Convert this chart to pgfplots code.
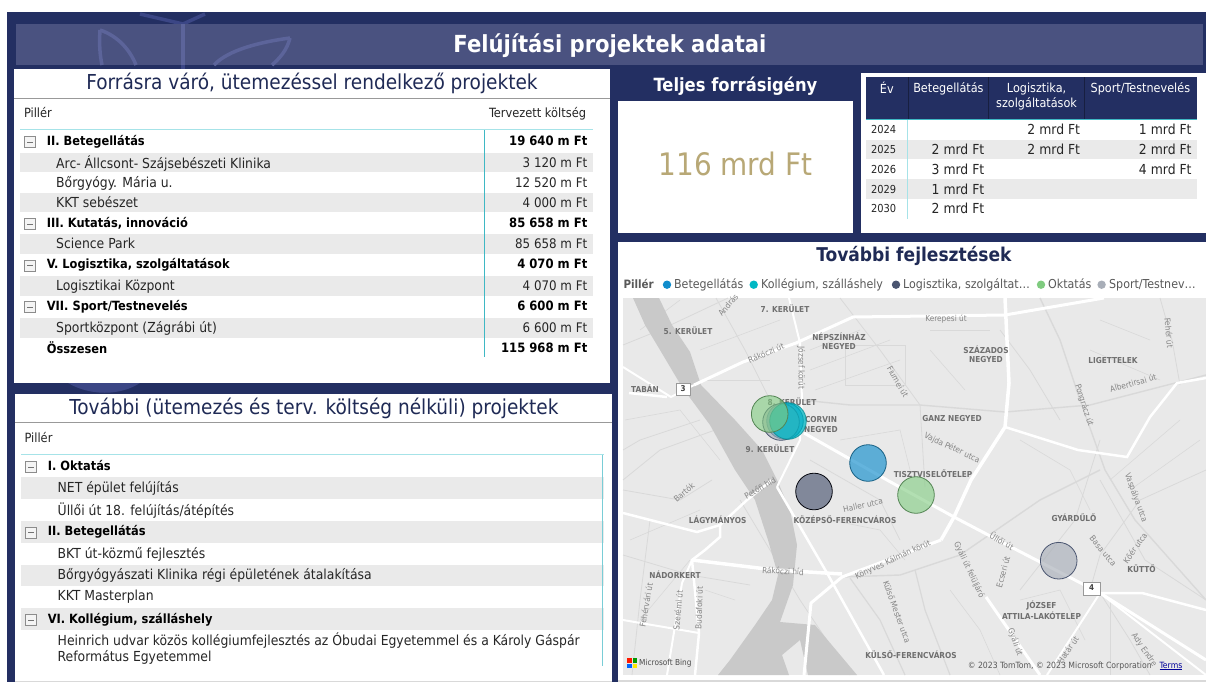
\documentclass[border=0pt]{standalone}
\usepackage{fontspec}
\setmainfont{DejaVu Sans Condensed}[BoldFont={DejaVu Sans Condensed Bold}]
\usepackage{pgfplots}
\pgfplotsset{compat=1.18}
\definecolor{navy}{HTML}{232F62}
\definecolor{band}{HTML}{4A5280}
\definecolor{leaf}{HTML}{3B4685}
\definecolor{leafb}{HTML}{5C649A}
\definecolor{ink}{HTML}{1F2A55}
\definecolor{rowg}{HTML}{EAEAEA}
\definecolor{teal1}{HTML}{3FB8C4}
\definecolor{teal2}{HTML}{A6E3E8}
\definecolor{gold}{HTML}{B8A876}
\definecolor{mapbg}{HTML}{E9E9E9}
\definecolor{river}{HTML}{C9C9C9}
\definecolor{lab}{HTML}{6F6F6F}
\definecolor{street}{HTML}{D9D9D9}
\definecolor{cB}{HTML}{118DCC}
\definecolor{cK}{HTML}{00B8C4}
\definecolor{cL}{HTML}{4A5570}
\definecolor{cO}{HTML}{7FCB7F}
\definecolor{cS}{HTML}{A8AEB8}
\newcommand\fs[1]{\fontsize{#1}{#1}\selectfont}
\newcommand\R[5]{\fill[#1] (axis cs:#2,#3) rectangle (axis cs:#4,#5);}
\newcommand\Tx[5]{\node[anchor=#1,inner sep=0pt,outer sep=0pt,yshift={-0.12pt*#4}] at (axis cs:#2,#3) {\fs{#4}#5\strut};}
\newcommand\Lw[3]{\node[anchor=west,inner sep=0pt,yshift=-1.3pt] at (axis cs:#1,#2) {\fs{13.8}\color{black!85}#3\strut};}
\newcommand\Lb[3]{\node[anchor=west,inner sep=0pt,yshift=-1.3pt] at (axis cs:#1,#2) {\fs{12.7}\bfseries\color{black}#3\strut};}
\newcommand\Vr[2]{\node[anchor=east,inner sep=0pt,yshift=-1.3pt] at (axis cs:587.5,#1) {\fs{13.2}\color{black!85}#2\strut};}
\newcommand\Vb[2]{\node[anchor=east,inner sep=0pt,yshift=-1.3pt] at (axis cs:587.5,#1) {\fs{12.9}\bfseries\color{black}#2\strut};}
\newcommand\Ic[2]{\draw[black!45,line width=.8pt,fill=rowg!50] (axis cs:#1-5.5,#2-5.5) rectangle (axis cs:#1+5.5,#2+5.5);\draw[black!55,line width=.8pt] (axis cs:#1-3,#2) -- (axis cs:#1+3,#2);}
\newcommand\Ml[3]{\node[inner sep=0pt,text=lab] at (axis cs:#1,#2) {\fs{8.2}\bfseries #3};}
\newcommand\Rl[4]{\node[inner sep=0pt,text=lab!85,rotate=#3] at (axis cs:#1,#2) {\fs{8.2}#4};}
\newcommand\Yv[3]{\node[anchor=east,inner sep=0pt,yshift=-1.3pt] at (axis cs:#1,#2) {\fs{13.8}\color{black!85}#3\strut};}
\newcommand\Yr[2]{\node[anchor=west,inner sep=0pt,yshift=-1.3pt] at (axis cs:870.8,#1) {\fs{11}\color{black!85}#2\strut};}
\newcommand\Hd[3]{\node[inner sep=0pt,yshift=-1.2pt] at (axis cs:#1,#2) {\fs{12.5}\color{white}#3\strut};}
\newcommand\Dot[3]{\fill[#1] (axis cs:#2,#3) circle[radius=4.2];}
\newcommand\Lg[2]{\node[anchor=west,inner sep=0pt,yshift=-1.2pt] at (axis cs:#1,284.7) {\fs{12.3}\color{black!65}#2\strut};}
\begin{document}
\begin{tikzpicture}
\begin{axis}[
  scale only axis, width=1206pt, height=682pt,
  xmin=0, xmax=1206, ymin=0, ymax=682, y dir=reverse,
  axis lines=none, clip=true,
  disabledatascaling,
]
\R{white}{0}{0}{1206}{682}
\R{navy}{7}{12}{1206}{682}
\draw[leaf,line width=3.5pt] (axis cs:183,24) -- (axis cs:183,70);
\draw[leaf,line width=3.5pt] (axis cs:140,14) -- (axis cs:183,24) -- (axis cs:205,14);
\R{band}{16}{24}{1203}{65}
\draw[leafb,line width=3.5pt] (axis cs:183,24) -- (axis cs:183,65);
\draw[leafb,line width=3.5pt] (axis cs:100,30) .. controls (axis cs:99,45) and (axis cs:100,55) .. (axis cs:102,65);
\draw[leafb,line width=3.5pt] (axis cs:100,30) .. controls (axis cs:118,36) and (axis cs:130,50) .. (axis cs:136,65);
\draw[leafb,line width=3.5pt] (axis cs:290,38) .. controls (axis cs:260,42) and (axis cs:228,50) .. (axis cs:214,65);
\draw[leafb,line width=3.5pt] (axis cs:290,38) .. controls (axis cs:287,50) and (axis cs:280,58) .. (axis cs:272,65);
\fill[leaf] (axis cs:68,383) .. controls (axis cs:90,396) and (axis cs:120,396) .. (axis cs:140,383) -- cycle;
\Tx{center}{610}{44}{23.5}{\bfseries\color{white}Felújítási projektek adatai}
% panel 1
\R{white}{14}{69}{610}{383}
\Tx{center}{312}{82}{20.6}{\color{ink}Forrásra váró, ütemezéssel rendelkező projektek}
\R{black!40}{14}{97.6}{610}{98.8}
\Tx{west}{24}{113}{12.7}{\color{black!85}Pillér}
\Tx{east}{586}{113}{12.7}{\color{black!85}Tervezett költség}
\R{rowg}{19.5}{152.7}{592.6}{172}
\R{rowg}{19.5}{192.7}{592.6}{212}
\R{rowg}{19.5}{234}{592.6}{254}
\R{rowg}{19.5}{276}{592.6}{296}
\R{rowg}{19.5}{318}{592.6}{338}
\R{teal2}{19.5}{129}{592.6}{130.3}
\R{teal1}{484}{130}{485}{357}
\Ic{30.3}{142}\Lb{46.7}{141}{II. Betegellátás}\Vb{141}{19 640 m Ft}
\Lw{56}{163}{Arc- Állcsont- Szájsebészeti Klinika}\Vr{163}{3 120 m Ft}
\Lw{56}{183}{Bőrgyógy. Mária u.}\Vr{183}{12 520 m Ft}
\Lw{56}{203}{KKT sebészet}\Vr{203}{4 000 m Ft}
\Ic{30.3}{224}\Lb{46.7}{223}{III. Kutatás, innováció}\Vb{223}{85 658 m Ft}
\Lw{56}{244}{Science Park}\Vr{244}{85 658 m Ft}
\Ic{30.3}{265.5}\Lb{46.7}{264.5}{V. Logisztika, szolgáltatások}\Vb{264.5}{4 070 m Ft}
\Lw{56}{286}{Logisztikai Központ}\Vr{286}{4 070 m Ft}
\Ic{30.3}{307}\Lb{46.7}{306}{VII. Sport/Testnevelés}\Vb{306}{6 600 m Ft}
\Lw{56}{328}{Sportközpont (Zágrábi út)}\Vr{328}{6 600 m Ft}
\Lb{46.7}{348}{Összesen}\Vb{348}{115 968 m Ft}
% panel 2
\R{white}{15}{394}{612}{681}
\R{black!15}{15}{681}{612}{682}
\Tx{center}{314}{407}{20.6}{\color{ink}További (ütemezés és terv. költség nélküli) projektek}
\R{black!40}{15}{422}{612}{423.2}
\Tx{west}{24.6}{438}{12.7}{\color{black!85}Pillér}
\R{rowg}{20.6}{477}{604}{499}
\R{rowg}{20.6}{521}{604}{543}
\R{rowg}{20.6}{564.5}{604}{586}
\R{rowg}{20.6}{608}{604}{630}
\R{teal2}{20.6}{454.2}{604}{455.3}
\R{teal1!70}{602}{455}{603}{666}
\Ic{31}{467}\Lb{47.6}{466}{I. Oktatás}
\Lw{57.5}{488}{NET épület felújítás}
\Lw{57.5}{510}{Üllői út 18. felújítás/átépítés}
\Ic{31}{532.5}\Lb{47.6}{531.5}{II. Betegellátás}
\Lw{57.5}{553.5}{BKT út-közmű fejlesztés}
\Lw{57.5}{575}{Bőrgyógyászati Klinika régi épületének átalakítása}
\Lw{57.5}{596.5}{KKT Masterplan}
\Ic{31}{620}\Lb{47.6}{619}{VI. Kollégium, szálláshely}
\Lw{57.5}{640}{Heinrich udvar közös kollégiumfejlesztés az Óbudai Egyetemmel és a Károly Gáspár}
\Lw{57.5}{657}{Református Egyetemmel}
% KPI card
\Tx{center}{735.5}{85}{18.2}{\bfseries\color{white}Teljes forrásigény}
\R{white}{617.6}{100.7}{852.6}{232.5}
\Tx{center}{735.5}{165}{31}{\color{gold}116 mrd Ft}
% year table
\R{white}{861}{72.7}{1206}{232.5}
\R{navy}{865.5}{76.7}{1196.7}{119}
\R{teal1}{865.5}{118.6}{1196.7}{119.8}
\R{black!35!navy}{908}{76.7}{908.8}{118.6}
\R{black!35!navy}{988.4}{76.7}{989.2}{118.6}
\R{black!35!navy}{1084.1}{76.7}{1084.9}{118.6}
\Hd{886.8}{88}{Év}\Hd{948.4}{88}{Betegellátás}\Hd{1036.6}{88}{Logisztika,}\Hd{1036.6}{102.7}{szolgáltatások}\Hd{1140.4}{88}{Sport/Testnevelés}
\R{rowg}{865.5}{140}{1196.7}{159.3}
\R{rowg}{865.5}{179.3}{1196.7}{199}
\R{teal2}{906.8}{120}{907.8}{219}
\Yr{129.7}{2024}\Yv{1080.3}{129.7}{2 mrd Ft}\Yv{1191.8}{129.7}{1 mrd Ft}
\Yr{150}{2025}\Yv{984.5}{150}{2 mrd Ft}\Yv{1080.3}{150}{2 mrd Ft}\Yv{1191.8}{150}{2 mrd Ft}
\Yr{169.6}{2026}\Yv{984.5}{169.6}{3 mrd Ft}\Yv{1191.8}{169.6}{4 mrd Ft}
\Yr{189.7}{2029}\Yv{984.5}{189.7}{1 mrd Ft}
\Yr{209}{2030}\Yv{984.5}{209}{2 mrd Ft}
% map panel
\R{white}{617.6}{241.7}{1206}{680}
\R{black!15}{617.6}{680}{1206}{682}
\Tx{center}{914}{254.3}{19}{\bfseries\color{ink}További fejlesztések}
\node[anchor=west,inner sep=0pt,yshift=-1.2pt] at (axis cs:623.3,284.7) {\fs{11.5}\bfseries\color{black!65}Pillér\strut};
\Dot{cB}{667}{284.7}\Lg{673.9}{Betegellátás}
\Dot{cK}{753.7}{284.7}\Lg{761}{Kollégium, szálláshely}
\Dot{cL}{896}{284.7}\Lg{903}{Logisztika, szolgáltat…}
\Dot{cO}{1041}{284.7}\Lg{1048}{Oktatás}
\Dot{cS}{1101.6}{284.7}\Lg{1109}{Sport/Testnev…}
\R{mapbg}{623.3}{298}{1206}{675}
% thin streets
\addplot[street,line width=.8pt] coordinates {(623,345)(660,330)(728,298)};
\addplot[street,line width=.8pt] coordinates {(716,298)(745,350)(770,400)};
\addplot[street,line width=.8pt] coordinates {(840,298)(880,350)(920,405)(925,487)};
\addplot[street,line width=1.4pt] coordinates {(802,400)(850,405)(920,405)(1005,412)(1090,405)(1206,375)};
\addplot[street,line width=1.4pt] coordinates {(1040,298)(1060,340)(1080,400)(1105,470)(1135,520)(1206,600)};
\addplot[street,line width=.8pt] coordinates {(1160,298)(1172,340)(1180,385)};
\addplot[street,line width=.8pt] coordinates {(1000,330)(1030,370)(1060,420)};
\addplot[street,line width=.8pt] coordinates {(845,345)(905,345)(905,385)(845,385)(845,345)};
\addplot[street,line width=.8pt] coordinates {(1100,480)(1145,560)(1206,600)};
\addplot[street,line width=.8pt] coordinates {(1100,440)(1075,520)(1020,590)};
\addplot[street,line width=.8pt] coordinates {(1206,470)(1140,500)(1100,555)(1090,590)};
\addplot[street,line width=1.4pt] coordinates {(842,577)(900,575)(960,555)(1040,500)(1100,470)};
\addplot[street,line width=1.2pt] coordinates {(850,578)(880,620)(905,675)};
\addplot[street,line width=1.2pt] coordinates {(915,570)(925,610)(950,675)};
\addplot[street,line width=.8pt] coordinates {(623,490)(680,500)(712,480)};
\addplot[street,line width=.8pt] coordinates {(650,520)(640,600)(632,675)};
\addplot[street,line width=.8pt] coordinates {(623,555)(690,575)(750,585)};
\addplot[street,line width=.8pt] coordinates {(740,500)(800,600)(850,675)};
\addplot[street,line width=.8pt] coordinates {(810,460)(880,500)(900,540)};
\addplot[street,line width=.8pt] coordinates {(1100,593)(1130,640)(1150,675)};
\addplot[street,line width=.8pt] coordinates {(1110,600)(1110,675)};
\addplot[street,line width=.8pt] coordinates {(700,420)(640,440)(623,450)};
\addplot[street,line width=.8pt] coordinates {(623,480)(660,450)(715,430)};
\addplot[street,line width=.6pt] coordinates {(810,350)(860,330)};
\addplot[street,line width=.6pt] coordinates {(810,370)(890,340)};
\addplot[street,line width=.6pt] coordinates {(815,390)(900,360)};
\addplot[street,line width=.6pt] coordinates {(930,330)(990,330)};
\addplot[street,line width=.6pt] coordinates {(930,350)(965,390)};
\addplot[street,line width=.6pt] coordinates {(1100,320)(1150,340)};
\addplot[street,line width=.6pt] coordinates {(1090,350)(1160,380)};
\addplot[street,line width=.6pt] coordinates {(1110,480)(1180,420)};
\addplot[street,line width=.6pt] coordinates {(1130,490)(1200,440)};
\addplot[street,line width=.6pt] coordinates {(1020,440)(1070,470)(1090,510)};
\addplot[street,line width=.6pt] coordinates {(840,440)(900,430)(910,470)};
\addplot[street,line width=.6pt] coordinates {(830,520)(880,530)(905,560)};
\addplot[street,line width=.6pt] coordinates {(950,590)(980,630)(1000,675)};
\addplot[street,line width=.6pt] coordinates {(1020,600)(1060,590)(1085,640)};
\addplot[street,line width=.6pt] coordinates {(640,620)(690,560)};
\addplot[street,line width=.6pt] coordinates {(630,540)(700,510)};
\addplot[street,line width=.6pt] coordinates {(705,590)(735,600)};
\addplot[street,line width=.6pt] coordinates {(640,330)(680,300)};
\addplot[street,line width=.6pt] coordinates {(700,350)(780,320)};
\addplot[street,line width=.6pt] coordinates {(703,380)(770,380)};
\addplot[street,line width=.6pt] coordinates {(625,420)(680,410)(720,460)};
% river
\addplot[fill=river,draw=none] coordinates {(633,298)(645,325)(660,350)(682,387)(710,425)(735,470)(755,500)(768,540)(778,575)(772,600)(755,625)(730,660)(718,675)(789,675)(782,655)(800,640)(808,675)(857,675)(815,625)(780,622)(793,585)(797,545)(790,510)(777,480)(762,450)(735,420)(701,385)(690,352)(672,325)(659,298)} --cycle;
\addplot[fill=mapbg,draw=none] coordinates {(739,590)(756,592)(735,645)} --cycle;
% main roads
\addplot[white,line width=3pt] coordinates {(694,385)(743,362)(796,343)(853,317)(1005,315)(1104,298)};
\addplot[white,line width=2pt] coordinates {(789,298)(800,343)(802,400)};
\addplot[white,line width=3.5pt] coordinates {(1005,298)(1009,383)(1005,427)(971,480)(954,517)(941,540)};
\addplot[white,line width=3pt] coordinates {(804,433)(887,480)(954,517)(1013,548)(1100,593)(1206,660)};
\addplot[white,line width=3.5pt] coordinates {(692,560)(775,570)(842,574)};
\addplot[white,line width=3pt] coordinates {(804,675)(811,603)(842,577)(941,540)};
\addplot[white,line width=2.5pt] coordinates {(1005,427)(1078,450)(1127,457)(1150,417)(1177,383)(1206,378)};
\addplot[white,line width=2.5pt] coordinates {(1100,593)(1142,593)(1206,610)};
\addplot[white,line width=2pt] coordinates {(1100,593)(1047,675)};
\addplot[white,line width=3pt] coordinates {(986,597)(1040,675)};
\addplot[white,line width=2.5pt] coordinates {(623,513)(697,532)(720,525)(747,500)(772,480)};
\addplot[white,line width=2.5pt] coordinates {(720,525)(720,537)(705,550)(692,560)(699,633)(695,675)};
\addplot[white,line width=2pt] coordinates {(692,560)(682,583)(667,675)};
\addplot[white,line width=2pt] coordinates {(623,620)(699,633)};
\addplot[white,line width=2.5pt] coordinates {(629,393)(667,397)};
\addplot[white,line width=2pt] coordinates {(623,367)(671,397)(694,385)};
\addplot[white,line width=2.5pt] coordinates {(777,487)(827,573)(884,675)};
\addplot[white,line width=2pt] coordinates {(802,400)(800,440)(777,487)};
\addplot[white,line width=2pt] coordinates {(1100,593)(1206,675)};
% map labels
\Ml{785}{309}{7. KERÜLET}\Ml{688}{331}{5. KERÜLET}\Ml{839}{337}{NÉPSZÍNHÁZ}\Ml{839}{347}{NEGYED}
\Ml{986}{350}{SZÁZADOS}\Ml{986}{360}{NEGYED}\Ml{1113}{361}{LIGETTELEK}\Ml{645}{389}{TABÁN}
\Ml{792}{402}{8. KERÜLET}\Ml{821}{420}{CORVIN}\Ml{821}{430}{NEGYED}\Ml{952}{419}{GANZ NEGYED}
\Ml{770}{449}{9. KERÜLET}\Ml{933}{474}{TISZTVISELŐTELEP}\Ml{717.6}{520}{LÁGYMÁNYOS}
\Ml{845}{520}{KÖZÉPSŐ-FERENCVÁROS}\Ml{1074}{518}{GYÁRDŰLŐ}\Ml{1141.5}{569}{KÜTTŐ}\Ml{675}{575}{NÁDORKERT}
\Ml{1041.5}{606}{JÓZSEF}\Ml{1041.5}{616}{ATTILA-LAKÓTELEP}\Ml{911}{655}{KÜLSŐ-FERENCVÁROS}
\Rl{946}{319}{0}{Kerepesi út}\Rl{766}{353}{22}{Rákóczi út}\Rl{801}{368}{-90}{József körút}
\Rl{1169}{333}{-85}{Fehér út}\Rl{1084}{405}{-72}{Pongrácz út}\Rl{1133}{383}{15}{Albertirsai út}
\Rl{952}{448}{-25}{Vajda Péter utca}\Rl{898}{382}{-60}{Fiumei út}\Rl{863}{505}{12}{Haller utca}
\Rl{1002}{541}{-30}{Üllői út}\Rl{969}{570}{-65}{Gyáli út felüljáró}\Rl{893}{560}{25}{Könyves Kálmán körút}
\Rl{783}{571}{-3}{Rákóczi híd}\Rl{897}{612}{-70}{Külső Mester utca}\Rl{1003}{572}{75}{Ecseri út}
\Rl{1103}{551}{-50}{Basa utca}\Rl{1135}{548}{55}{Kőér utca}\Rl{1015}{642}{-70}{Gyáli út}
\Rl{1068}{650}{55}{Határ út}\Rl{646}{605}{80}{Fehérvári út}\Rl{678}{610}{85}{Szerémi út}
\Rl{699}{608}{88}{Budafoki út}\Rl{1144}{650}{-55}{Ady Endre}\Rl{684}{492}{40}{Bartók}
\Rl{760}{488}{30}{Petőfi híd}\Rl{728}{305}{50}{András}\Rl{1136}{498}{-70}{Vaspálya utca}
% shields
\filldraw[fill=white,draw=black!40,line width=.6pt] (axis cs:676,383) rectangle (axis cs:690,395);
\node[inner sep=0pt] at (axis cs:683,389) {\fs{8}\bfseries\color{black!75}3};
\filldraw[fill=white,draw=black!40,line width=.6pt] (axis cs:1083,582) rectangle (axis cs:1100,595);
\node[inner sep=0pt] at (axis cs:1091.7,588) {\fs{8}\bfseries\color{black!75}4};
% attribution
\R{red!80!orange}{627}{658}{632}{663}
\R{green!60!black}{632.5}{658}{637}{663}
\R{blue!60!cyan}{627}{663.5}{632}{668}
\R{yellow!90!orange}{632.5}{663.5}{637}{668}
\node[anchor=west,inner sep=0pt] at (axis cs:639,663) {\fs{8.2}\color{black!70}Microsoft Bing};
\node[anchor=east,inner sep=0pt] at (axis cs:1152,666) {\fs{8.6}\color{black!65}© 2023 TomTom, © 2023 Microsoft Corporation};
\node[anchor=center,inner sep=0pt] at (axis cs:1171,666) {\fs{8.6}\color{blue!60!black}\underline{Terms}};
% bubbles
\addplot[only marks,mark=*,mark size=18.3pt,mark options={fill=cB,fill opacity=.65,draw=cB!60!black,draw opacity=.9,line width=.8pt}] coordinates {(785,421)(868,463)};
\addplot[only marks,mark=*,mark size=18.3pt,mark options={fill=cL,fill opacity=.65,draw=black!85!navy,line width=.8pt}] coordinates {(814,491.5)};
\addplot[only marks,mark=*,mark size=18.3pt,mark options={fill=cS,fill opacity=.65,draw=cL,line width=.8pt}] coordinates {(781,422)(1058.7,560.7)};
\addplot[only marks,mark=*,mark size=18.3pt,mark options={fill=cK,fill opacity=.75,draw=cK!70!black,draw opacity=.7,line width=.8pt}] coordinates {(788,421)};
\addplot[only marks,mark=*,mark size=18.3pt,mark options={fill=cO,fill opacity=.6,draw=cO!65!black,line width=.8pt}] coordinates {(769.7,414)(916,495)};
\end{axis}
\end{tikzpicture}
\end{document}
